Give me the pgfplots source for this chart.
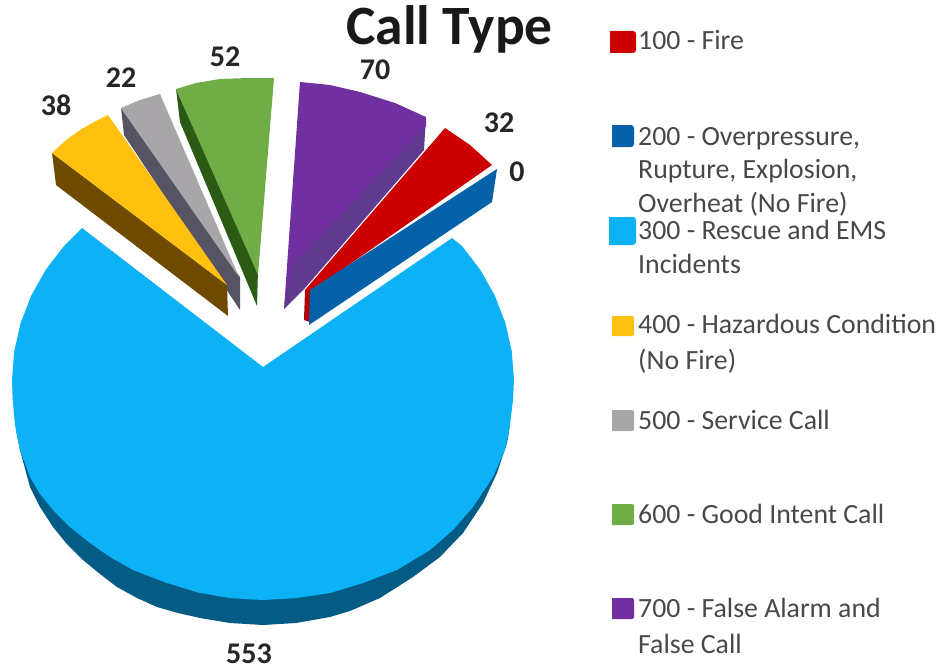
\documentclass[border=0pt]{standalone}
\usepackage{pgfplots}
\pgfplotsset{compat=1.18}
\usepackage{fontspec}
\setmainfont{Carlito}
\definecolor{cFire}{HTML}{CC0000}
\definecolor{cFireS}{HTML}{B00008}
\definecolor{cOver}{HTML}{0561A8}
\definecolor{cRescue}{HTML}{0DB2F6}
\definecolor{cRescueS}{HTML}{045C85}
\definecolor{cHaz}{HTML}{FFC010}
\definecolor{cHazS}{HTML}{6E4B00}
\definecolor{cServ}{HTML}{A8A6A8}
\definecolor{cServS}{HTML}{565462}
\definecolor{cGood}{HTML}{70AD47}
\definecolor{cGoodS}{HTML}{2B5A14}
\definecolor{cFalse}{HTML}{7030A0}
\definecolor{cFalseS}{HTML}{5F3A8E}
\definecolor{legtext}{HTML}{484848}
\begin{document}
\begin{tikzpicture}
\begin{axis}[
  scale only axis,
  width=939pt, height=669pt,
  xmin=0, xmax=939, ymin=0, ymax=669,
  y dir=reverse,
  hide axis,
  every axis plot/.append style={draw=none, mark=none},
]
% keeps the page at the full frame, hide axis drops it otherwise
\addplot[draw=none] coordinates {(0,0) (939,669)};
% 300 rescue, rim then top face
\addplot[fill=cRescueS] coordinates {(16,430) (20,450) (30,487) (40,507) (53,527) (66,543) (83,560) (100,574) (117,587) (137,598) (157,607) (178,613) (200,618) (230,623) (263,625) (296,623) (330,617) (350,611) (380,598) (413,577) (440,557) (463,533) (483,503) (497,473) (507,443) (510,425) (263,380)};
\addplot[fill=cRescue] coordinates {(263,367) (82,228) (63.9,246.1) (45.6,270) (31.1,295.8) (20.6,323.1) (14.2,351.3) (12,380) (12.7,400) (15,425) (20,450) (30,477) (40,494) (53,510) (70,527) (90,543) (110,557) (133,570) (167,583) (198,592.5) (230.2,598.1) (263,600) (295.8,598.1) (330,593) (363,583) (397,570) (430,550) (453,530) (473,507) (493,477) (505,450) (510,425) (513,400) (514,380) (511.8,351.3) (505.4,323.1) (494.9,295.8) (480.4,270) (462.1,246.1) (452,238)};
% 600 good intent
\addplot[fill=cGoodS] coordinates {(176,89) (180,122) (257,306) (258,270)};
\addplot[fill=cGood] coordinates {(176,89) (196,83) (220,79) (248,78) (274,78) (258,275)};
% 500 service
\addplot[fill=cServS] coordinates {(121,108) (124,135) (240,310) (240,277)};
\addplot[fill=cServ] coordinates {(121,108) (140,100) (160,94) (239,277)};
% 400 hazardous
\addplot[fill=cHazS] coordinates {(52,153) (56,185) (228,316) (227,285)};
\addplot[fill=cHaz] coordinates {(52,153) (65,141) (80,130) (94,122) (108,115) (227,285)};
% 700 false alarm
\addplot[fill=cFalseS] coordinates {(426,117) (424,150) (305,288) (284,309) (300,200)};
\addplot[fill=cFalse] coordinates {(300,82) (330,85) (360,92) (395,103) (426,117) (426,126) (293,265) (284,309)};
% 100 fire
\addplot[fill=cFireS] coordinates {(305,290) (304,320) (310,322) (311,288)};
\addplot[fill=cFire] coordinates {(445,128) (470,145) (492,165) (310,292) (305,290)};
% 200 overpressure, value 0 so only the side shows
\addplot[fill=cOver] coordinates {(497,169) (492,202) (309,325) (310,290)};
% legend keys
\addplot[fill=cFire, rounded corners=3pt] coordinates {(610,31) (636,31) (636,53) (610,53)};
\addplot[fill=cOver, rounded corners=3pt] coordinates {(612,125) (634,125) (634,147) (612,147)};
\addplot[fill=cRescue, rounded corners=3pt] coordinates {(609,217) (636,217) (636,245) (609,245)};
\addplot[fill=cHaz, rounded corners=2pt] coordinates {(612,316) (634,316) (634,336) (612,336)};
\addplot[fill=cServ, rounded corners=2pt] coordinates {(612,410) (634,410) (634,431) (612,431)};
\addplot[fill=cGood, rounded corners=2pt] coordinates {(612,504) (634,504) (634,525) (612,525)};
\addplot[fill=cFalse, rounded corners=2pt] coordinates {(612,598) (634,598) (634,619) (612,619)};
% title and value labels
\node[anchor=base, font=\fontsize{55.5}{55.5}\selectfont\bfseries, text=black!90] at (axis cs:449.5,45) {Call Type};
\tikzset{val/.style={anchor=center, inner sep=0pt, font=\fontsize{30}{30}\selectfont\bfseries, text=black!85}}
\node[val] at (axis cs:56,105) {38};
\node[val] at (axis cs:121,78) {22};
\node[val] at (axis cs:225,57) {52};
\node[val] at (axis cs:375,70) {70};
\node[val] at (axis cs:499,123) {32};
\node[val] at (axis cs:517,172) {0};
\node[val] at (axis cs:249,654) {553};
% legend text
\tikzset{leg/.style={anchor=base west, inner sep=0pt, font=\fontsize{27.8}{27.8}\selectfont, text=legtext}}
\node[leg] at (axis cs:638,49) {100 - Fire};
\node[leg] at (axis cs:638,145) {200 - Overpressure,};
\node[leg] at (axis cs:638,178) {Rupture, Explosion,};
\node[leg] at (axis cs:638,212) {Overheat (No Fire)};
\node[leg] at (axis cs:638,239) {300 - Rescue and EMS};
\node[leg] at (axis cs:638,273) {Incidents};
\node[leg] at (axis cs:638,333) {400 - Hazardous Condition};
\node[leg] at (axis cs:638,369) {(No Fire)};
\node[leg] at (axis cs:638,429) {500 - Service Call};
\node[leg] at (axis cs:638,523) {600 - Good Intent Call};
\node[leg] at (axis cs:638,617) {700 - False Alarm and};
\node[leg] at (axis cs:638,653) {False Call};
\end{axis}
\end{tikzpicture}
\end{document}
